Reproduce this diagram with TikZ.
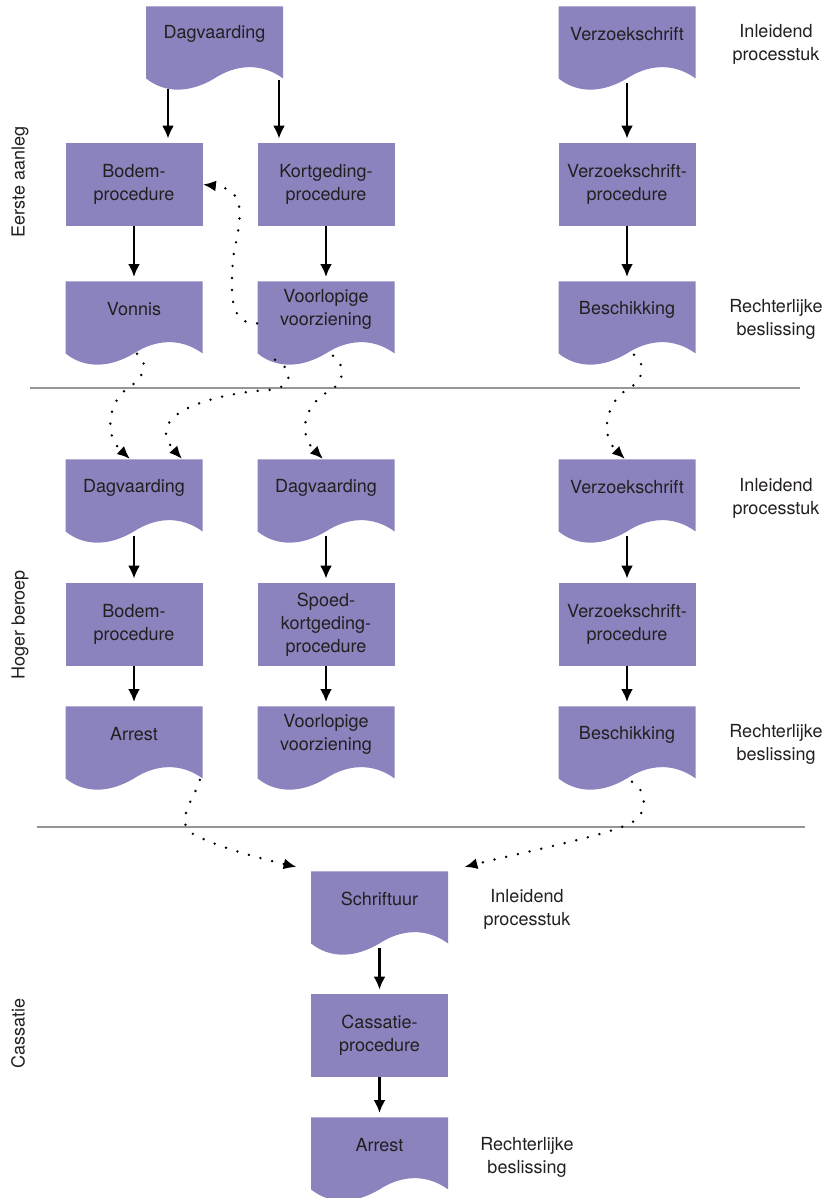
\documentclass[tikz,border=0pt]{standalone}
\usepackage{fontspec}
\setmainfont{TeX Gyre Heros}
\usetikzlibrary{arrows.meta}

\definecolor{boxfill}{RGB}{139,131,189}
\definecolor{inkgray}{RGB}{35,31,32}
\definecolor{rulegray}{RGB}{150,150,150}

\tikzset{
  txt/.style={font=\fontsize{9pt}{11.5pt}\selectfont, text=inkgray, align=center},
  procbox/.style={txt, fill=boxfill, minimum width=68.5pt, minimum height=41.5pt, inner sep=0pt},
  docbox/.style={anchor=north, minimum width=68.5pt, minimum height=42pt, inner sep=0pt,
    path picture={\fill[boxfill] (path picture bounding box.north west) -- (path picture bounding box.north east)
      -- ++(0pt,-36pt) .. controls +(-11pt,8pt) and +(10.75pt,7pt) .. ++(-34.25pt,0pt)
      .. controls +(-11.75pt,-7pt) and +(10pt,-8pt) .. ++(-34.25pt,0pt) -- cycle;}},
  sidenote/.style={txt},
  phaselabel/.style={txt, rotate=90},
  flowarrow/.style={-{Latex[length=6.5pt,width=6pt]}, line width=1.2pt, shorten >=2pt},
  hoparrow/.style={-{Latex[length=6.5pt,width=5.5pt]}, line width=1.35pt, line cap=round, dash pattern=on 0pt off 6pt},
  separator/.style={rulegray, line width=1pt}
}

% document shape with its text a bit above the middle
\newcommand{\docnode}[4]{%
  \node[docbox] (#1) at (#2,#3) {};
  \node[txt] (#1-t) at ([yshift=7pt]#1.center) {#4};
}

\begin{document}
\begin{tikzpicture}[x=0.5pt,y=-0.5pt]
\useasboundingbox (0,0) rectangle (835,1198);

% eerste aanleg
\docnode{dag1}{214.5}{6}{Dagvaarding}
\docnode{verz1}{627}{6}{Verzoekschrift}
\node[procbox] (bodem1) at (134,184.5) {Bodem-\\procedure};
\node[procbox] (kort1) at (326,184.5) {Kortgeding-\\procedure};
\node[procbox] (vproc1) at (627,184.5) {Verzoekschrift-\\procedure};
\docnode{vonnis}{134}{281}{Vonnis}
\docnode{voorz1}{326}{281}{Voorlopige\\voorziening}
\docnode{besch1}{627}{281}{Beschikking}

% hoger beroep
\docnode{dag2}{134}{459}{Dagvaarding}
\docnode{dag3}{326}{459}{Dagvaarding}
\docnode{verz2}{627}{459}{Verzoekschrift}
\node[procbox] (bodem2) at (134,624.5) {Bodem-\\procedure};
\node[procbox] (spoed) at (326,624.5) {Spoed-\\kortgeding-\\procedure};
\node[procbox] (vproc2) at (627,624.5) {Verzoekschrift-\\procedure};
\docnode{arrest1}{134}{706}{Arrest}
\docnode{voorz2}{326}{706}{Voorlopige\\voorziening}
\docnode{besch2}{627}{706}{Beschikking}

% cassatie
\docnode{schrift}{379.5}{871}{Schriftuur}
\node[procbox] (cass) at (379.5,1035.5) {Cassatie-\\procedure};
\docnode{arrest2}{379.5}{1117}{Arrest}

% labels
\node[phaselabel] (eerste) at (20,182) {Eerste aanleg};
\node[phaselabel] (hoger) at (20,625) {Hoger beroep};
\node[phaselabel] (cassatie) at (18,1033) {Cassatie};
\node[sidenote] (inl1) at (776,44.5) {Inleidend\\processtuk};
\node[sidenote] (recht1) at (776,319.5) {Rechterlijke\\beslissing};
\node[sidenote] (inl2) at (776,498.5) {Inleidend\\processtuk};
\node[sidenote] (recht2) at (776,744.5) {Rechterlijke\\beslissing};
\node[sidenote] (inl3) at (527,909.5) {Inleidend\\processtuk};
\node[sidenote] (recht3) at (527,1157.5) {Rechterlijke\\beslissing};

\draw[separator] (30,388) -- (800,388);
\draw[separator] (37,827) -- (805,827);

% solid arrows
\draw[flowarrow] ([shift={(-46.5,-2)}]dag1.south) -- ([xshift=17pt]bodem1.north);
\draw[flowarrow] ([shift={(64.5,-11)}]dag1.south) -- ([xshift=-23.5pt]kort1.north);
\draw[flowarrow] ([yshift=4pt]verz1.south) -- (vproc1.north);
\draw[flowarrow] (bodem1.south) -- (vonnis.north);
\draw[flowarrow] (kort1.south) -- (voorz1.north);
\draw[flowarrow] (vproc1.south) -- (besch1.north);
\draw[flowarrow] ([yshift=4pt]dag2.south) -- (bodem2.north);
\draw[flowarrow] ([yshift=4pt]dag3.south) -- (spoed.north);
\draw[flowarrow] ([yshift=4pt]verz2.south) -- (vproc2.north);
\draw[flowarrow] (bodem2.south) -- (arrest1.north);
\draw[flowarrow] (spoed.south) -- (voorz2.north);
\draw[flowarrow] (vproc2.south) -- (besch2.north);
\draw[flowarrow] ([yshift=4pt]schrift.south) -- (cass.north);
\draw[flowarrow] (cass.south) -- (arrest2.north);

% dotted arrows
\draw[hoparrow] (voorz1.west) .. controls +(-29,1) and +(-2,35) .. ++(-24,-66)
  .. controls +(8,-40) and +(45,5) .. (bodem1.east);
\draw[hoparrow] ([shift={(3,-12)}]vonnis.south) .. controls +(15,12) and +(13,-8) .. ++(-10,35)
  .. controls +(-15,10) and +(-29,-27) .. ([xshift=-2pt]dag2.north);
\draw[hoparrow] ([shift={(-51,-6)}]voorz1.south) .. controls +(17,8) and +(26,-3) .. ++(-5,30)
  .. controls +(-50,3) and +(-42,-47) .. ([xshift=24pt]dag2.north);
\draw[hoparrow] ([shift={(7,-10)}]voorz1.south) .. controls +(12,8) and +(16,-10) .. ++(-3,35)
  .. controls +(-22,10) and +(-28,-28) .. ([xshift=-1.5pt]dag3.north);
\draw[hoparrow] ([shift={(7,-11)}]besch1.south) .. controls +(12,8) and +(18,-10) .. ++(-7,35)
  .. controls +(-17,9) and +(-28,-27) .. ([xshift=-1pt]verz2.north);
\draw[hoparrow] ([shift={(-3,-11)}]arrest1.south east) .. controls +(-4,16) and +(-20,-11) .. ++(-7,54)
  .. controls +(23,13) and +(-38,-9) .. ([shift={(-14,-4)}]schrift.north west);
\draw[hoparrow] ([shift={(5,-9)}]besch2.south) .. controls +(16,9) and +(17,-8) .. ++(-1,41)
  .. controls +(-21,12) and +(55,-14) .. ([shift={(16,-4)}]schrift.north east);
\end{tikzpicture}
\end{document}
